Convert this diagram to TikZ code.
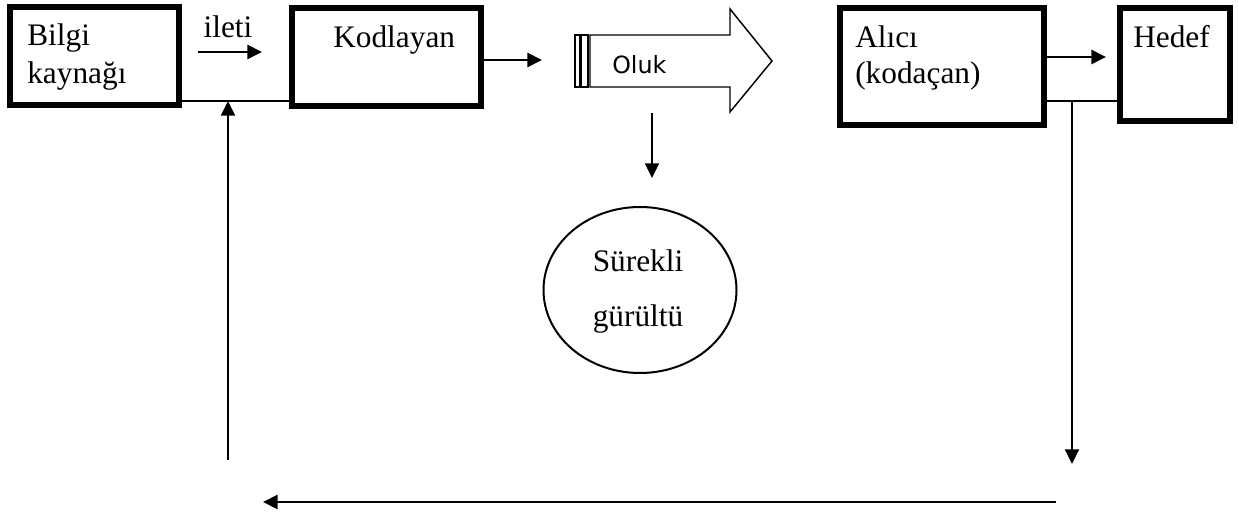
\documentclass[tikz,border=0pt]{standalone}
\usepackage{fontspec}
\setmainfont{Liberation Serif}
\newfontfamily\olukfont{DejaVu Sans}
\usetikzlibrary{arrows.meta,shapes.geometric}
\begin{document}
\begin{tikzpicture}[x=0.75pt,y=-0.75pt,
  blok/.style={draw, line width=4.4pt, rectangle, inner sep=0pt},
  yazi/.style={anchor=base west, inner sep=0pt, font=\fontsize{23.5pt}{28.5pt}\selectfont},
  ok/.style={-{Triangle[length=11pt,width=10.5pt]}, line width=2pt},
  ince/.style={line width=1.4pt}]
\useasboundingbox (0,0) rectangle (1239,516);

% boxes
\node[blok, minimum width=126.75pt, minimum height=73.5pt] (bilgi) at (94.5,56) {};
\node[blok, minimum width=141.75pt, minimum height=73.5pt] (kod) at (386.5,57) {};
\node[blok, minimum width=153pt, minimum height=87.75pt] (alici) at (942,66.5) {};
\node[blok, minimum width=82.5pt, minimum height=84.75pt] (hedef) at (1175,64.5) {};
\node[draw, ellipse, line width=1.5pt, inner sep=0pt,
      minimum width=144.75pt, minimum height=124.5pt] (gurultu) at (640,290) {};

% channel arrow
\draw[line width=1.1pt] (590,35) -- (730,35) -- (730,9) -- (772,61) -- (730,112)
  -- (730,87) -- (590,87) -- cycle;
\draw[line width=0.9pt] (575,35) rectangle (580,87);
\draw[line width=0.9pt] (581,35) rectangle (588,87);
\node[anchor=base west, inner sep=0pt, font=\olukfont\fontsize{17.8pt}{21pt}\selectfont]
  (oluk) at (612,74) {Oluk};

% labels
\node[yazi] (tBilgi) at (27,46) {Bilgi};
\node[yazi] (tKaynak) at (27,84) {kaynağı};
\node[yazi, anchor=base] (tIleti) at (228,38) {ileti};
\node[yazi] (tKod) at (333,48) {Kodlayan};
\node[yazi] (tAlici) at (855,48) {Alıcı};
\node[yazi] (tKodacan) at (855,84) {(kodaçan)};
\node[yazi] (tHedef) at (1133,48) {Hedef};
\node[yazi, anchor=base] (tSurekli) at (638,272) {Sürekli};
\node[yazi, anchor=base] (tGurultu) at (638,327) {gürültü};

% free ends of connectors
\coordinate (iletiA) at (198,52);
\coordinate (iletiB) at (262,52);
\coordinate (geriUst) at (228,101);
\coordinate (geriAlt) at (228,460);
\coordinate (olukGiris) at (542,60);
\coordinate (olukAlt) at (652,113);
\coordinate (gurUst) at (652,178);
\coordinate (hedefOnu) at (1106,57);
\coordinate (hedefIc) at (1122,101);
\coordinate (donUst) at (1072,101);
\coordinate (donAlt) at (1072,464);
\coordinate (altSag) at (1056,502);
\coordinate (altSol) at (263,502);

% connectors
\draw[ok] (iletiA) -- (iletiB);
\draw[ince] (bilgi.east |- geriUst) -- (kod.west |- geriUst);
\draw[ok, line width=1.7pt] (geriAlt) -- (geriUst);
\draw[ok] (kod.east |- olukGiris) -- (olukGiris);
\draw[ok, line width=1.6pt] (olukAlt) -- (gurUst);
\draw[ok] (alici.east |- hedefOnu) -- (hedefOnu);
\draw[ince] (alici.east |- hedefIc) -- (hedefIc);
\draw[ok, line width=1.6pt] (donUst) -- (donAlt);
\draw[ok, line width=2.2pt] (altSag) -- (altSol);
\end{tikzpicture}
\end{document}
